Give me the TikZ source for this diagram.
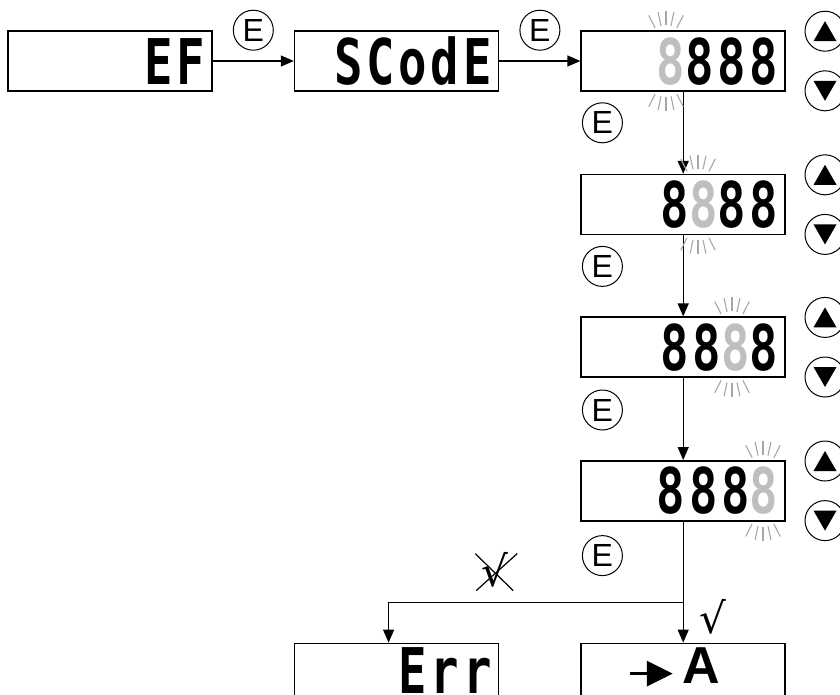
\documentclass[tikz,border=0pt]{standalone}
\usepackage{fontspec}
\setmainfont{Liberation Sans}
\newfontfamily\segfont[FakeStretch=0.75, LetterSpace=6]{DejaVu Sans Mono}
\newfontfamily\symbfont{DejaVu Sans}
\usetikzlibrary{arrows.meta, positioning, calc}

\begin{document}
\begin{tikzpicture}[x=1pt, y=-1pt, node distance=81pt, >={Triangle[length=13pt, width=11pt]}, line width=1.3pt]
        % Styles
        \tikzstyle{display} = [draw, rectangle, line width=1.6pt, minimum height=60pt, text width=190pt, inner xsep=7pt, inner ysep=0pt, text height=46pt, text depth=0pt, align=right, font=\segfont\bfseries\fontsize{63}{63}\selectfont]
        \tikzstyle{ekey} = [draw, circle, line width=1pt, minimum size=40pt, inner sep=0pt, font=\fontsize{32}{32}\selectfont]
        \tikzstyle{btn} = [draw, circle, line width=1pt, minimum size=40pt, inner sep=0pt]
        \tikzstyle{btnup} = [btn, path picture={\fill ([yshift=10pt]path picture bounding box.center) -- ([shift={(-11.5pt,-10pt)}]path picture bounding box.center) -- ([shift={(11.5pt,-10pt)}]path picture bounding box.center) -- cycle;}]
        \tikzstyle{btndown} = [btn, path picture={\fill ([yshift=-10pt]path picture bounding box.center) -- ([shift={(-11.5pt,10pt)}]path picture bounding box.center) -- ([shift={(11.5pt,10pt)}]path picture bounding box.center) -- cycle;}]
        \tikzstyle{flash} = [draw=black!35, line width=1.1pt]
        \tikzstyle{tick} = [font=\symbfont\fontsize{42}{42}\selectfont, inner sep=0pt]

        \useasboundingbox (0,0) rectangle (840,694);
        \clip (0,0) rectangle (840,694);

        % --- Top row ---
        \node [display] (ef) at (110,61) {EF};
        \node [display, right=of ef] (scode) {SCodE};
        \node [display, right=of scode] (d1) {{\color{black!25}8}888};

        % --- Digit entry ---
        \node [display, below=82pt of d1] (d2) {8{\color{black!25}8}88};
        \node [display, below=81pt of d2] (d3) {88{\color{black!25}8}8};
        \node [display, below=82pt of d3] (d4) {888{\color{black!25}8}};

        % --- Result ---
        \node [display, below=121pt of d4] (ok) {};
        \node [display, left=of ok, text depth=5pt] (err) {Err};

        \draw [->] (ef) -- (scode);
        \draw [->] (scode) -- (d1);
        \draw [->] (d1) -- (d2);
        \draw [->] (d2) -- (d3);
        \draw [->] (d3) -- (d4);
        \draw [->] (d4) -- (ok);

        \coordinate (split) at ($(ok.north)+(0,-40)$);
        \coordinate (errin) at ($(err.north)+(-8,0)$);
        \draw [->] (split) -| (errin);

        % --- E keys ---
        \node [ekey] (e1) at ($(ef.north east)!0.5!(scode.north west)$) {E};
        \node [ekey] (e2) at ($(scode.north east)!0.5!(d1.north west)$) {E};
        \node [ekey] (e3) at ($(d1.south west)+(22,31)$) {E};
        \node [ekey] (e4) at ($(d2.south west)+(22,31)$) {E};
        \node [ekey] (e5) at ($(d3.south west)+(22,32)$) {E};
        \node [ekey] (e6) at ($(d4.south west)+(22,34)$) {E};

        % --- Up / down keys ---
        \foreach \d in {d1,d2,d3,d4} {
            \node [btnup] (\d-up) at ($(\d.north east)+(39,1)$) {};
            \node [btndown] (\d-dn) at ($(\d.south east)+(39,-1)$) {};
        }

        % --- Blinking digit ---
        \foreach \b/\x in {d1/-120, d2/-88, d3/-54, d4/-23}
            \foreach \a in {63,78,90,102,117} {
                \draw [flash] ($(\b.north east)+(\x,19)+(\a:24pt)$) -- ++(\a:14pt);
                \draw [flash] ($(\b.south east)+(\x,-19)+(-\a:24pt)$) -- ++(-\a:14pt);
            }

        % --- Marks ---
        \node [font=\bfseries\fontsize{52}{52}\selectfont, inner sep=0pt] (lbla) at ($(ok.north)+(18,23)$) {A};
        \draw [-{Triangle[length=26pt, width=25pt]}, line width=3pt] ($(lbla.west)+(-52,8)$) -- ($(lbla.west)+(-9,8)$);
        \node [tick] (yes) at ($(ok.north)+(30,-26)$) {√};
        \node [tick] (no) at ($(split)+(-188,-33)$) {√};
        \draw [line width=1.2pt] ($(no)+(-20,-16)$) -- ($(no)+(18,21)$);
        \draw [line width=1.2pt] ($(no)+(-19,21)$) -- ($(no)+(22,-16)$);

    \end{tikzpicture}
\end{document}
